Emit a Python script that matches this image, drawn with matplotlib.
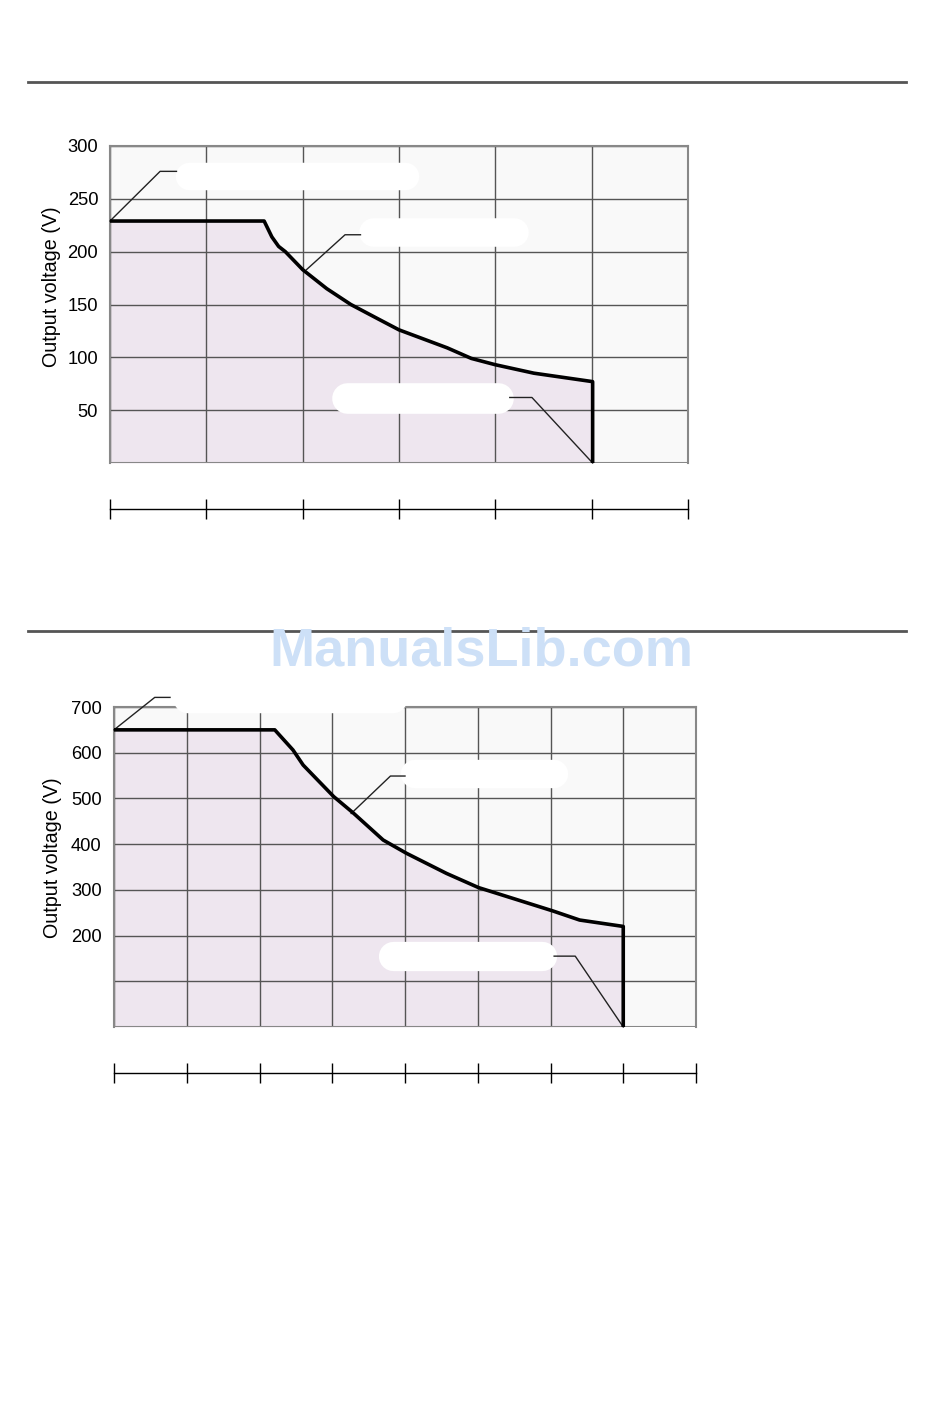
import matplotlib
matplotlib.use("Agg")
import matplotlib.pyplot as plt

plt.rcParams['font.family'] = ['Liberation Sans', 'DejaVu Sans']

# chart 1 (upper): output voltage vs. current, 6 grid divisions
x_top = [0, 1.6, 1.68, 1.75, 1.82, 2.0, 2.25, 2.5, 2.77, 3.0, 3.5, 3.75, 4.0, 4.4, 5.01]
v_top = [229, 229, 214, 205, 200, 183, 165, 150, 137, 126, 109, 99, 93, 85, 77]
yticks_top = [0, 50, 100, 150, 200, 250, 300]
ylabels_top = ['', '50', '100', '150', '200', '250', '300']

# chart 2 (lower): 8 grid divisions
x_bot = [0, 2.21, 2.46, 2.6, 3.02, 3.29, 3.7, 4.02, 4.57, 5.01, 6.03, 6.4, 7.0]
v_bot = [650, 650, 606, 573, 504, 468, 409, 380, 336, 305, 254, 234, 220]
yticks_bot = [0, 100, 200, 300, 400, 500, 600, 700]
ylabels_bot = ['', '', '200', '300', '400', '500', '600', '700']

FILL = '#eee6ef'
BG = '#f9f9f9'
GRID = '#555555'
FRAME = '#888888'
PX = 72 / 100  # points per pixel at dpi 100


def pill(ax, x0, x1, y0, y1):
    # white pill-shaped label box (text blanked in the source):
    # a thick line with round caps gives semicircular ends
    (px0, py0), (px1, py1) = ax.transData.transform([(x0, y0), (x1, y1)])
    h = py1 - py0
    r = h / 2 * (x1 - x0) / (px1 - px0)
    yc = (y0 + y1) / 2
    ax.plot([x0 + r, x1 - r], [yc, yc], color='white', lw=h * PX,
            solid_capstyle='round', zorder=3, clip_on=False)


def leader(ax, pts):
    xs, ys = zip(*pts)
    ax.plot(xs, ys, color='#222222', lw=1, zorder=3.5, clip_on=False)


def draw_chart(ax, xs, vs, nx, ymax, yticks, ylabels, pad):
    ax.set_facecolor(BG)
    ax.fill_between(xs + [xs[-1]], vs + [0], 0, color=FILL, lw=0, zorder=1)
    ax.plot(xs + [xs[-1]], vs + [0], color='black', lw=2.6, zorder=4,
            solid_joinstyle='round')
    ax.set_xlim(0, nx)
    ax.set_ylim(0, ymax)
    ax.set_xticks(range(nx + 1))
    ax.set_yticks(yticks)
    ax.set_yticklabels(ylabels, fontsize=13.2)
    ax.grid(True, color=GRID, lw=1)
    ax.tick_params(axis='y', length=0, pad=pad)
    ax.tick_params(axis='x', direction='inout', length=20 * PX, width=1,
                   labelbottom=False, color='black')
    for s in ['top', 'left', 'right']:
        ax.spines[s].set_color(FRAME)
        ax.spines[s].set_linewidth(1.5)
    ax.spines['bottom'].set_position(('outward', 46 * PX))
    ax.spines['bottom'].set_color('black')
    ax.spines['bottom'].set_linewidth(1)
    ax.axhline(0, color=FRAME, lw=1.5, zorder=2.5)


fig = plt.figure(figsize=(9.5, 14.02), dpi=100)

# horizontal section rules
for y in [82, 631]:
    fig.add_artist(plt.Line2D([28 / 950, 906 / 950], [1 - y / 1402, 1 - y / 1402],
                              color='#555555', lw=2))

ax1 = fig.add_axes([110 / 950, 1 - 463 / 1402, 578 / 950, 317 / 1402])
draw_chart(ax1, x_top, v_top, 6, 300, yticks_top, ylabels_top, 8.5)
ax1.set_ylabel('Output voltage (V)', fontsize=14.2, va='center')
ax1.yaxis.set_label_coords(-0.102, 0.555)
pill(ax1, 0.68, 3.2, 259, 285)
leader(ax1, [(0, 229), (0.52, 276), (0.69, 276)])
pill(ax1, 2.58, 4.34, 205, 232)
leader(ax1, [(2.04, 183), (2.44, 216), (2.6, 216)])
pill(ax1, 2.3, 4.19, 47, 76)
leader(ax1, [(4.15, 62), (4.38, 62), (5.01, 0)])

ax2 = fig.add_axes([114 / 950, 1 - 1027 / 1402, 582 / 950, 320 / 1402])
draw_chart(ax2, x_bot, v_bot, 8, 700, yticks_bot, ylabels_bot, 9)
ax2.set_ylabel('Output voltage (V)', fontsize=14.2, va='center')
ax2.yaxis.set_label_coords(-0.106, 0.53)
pill(ax2, 0.81, 4.03, 688, 748)
leader(ax2, [(0, 650), (0.56, 721), (0.77, 721)])
pill(ax2, 3.94, 6.24, 522, 584)
leader(ax2, [(3.26, 467), (3.8, 549), (4.0, 549)])
pill(ax2, 3.63, 6.08, 123, 187)
leader(ax2, [(6.05, 155), (6.34, 155), (7.0, 0)])

# watermark
fig.text(481.5 / 950, 1 - 666 / 1402, 'ManualsLib.com', fontsize=39,
         fontweight='bold', color='#cde0f7', ha='center', va='baseline',
         zorder=10)

fig.savefig('out.png', dpi=100)
